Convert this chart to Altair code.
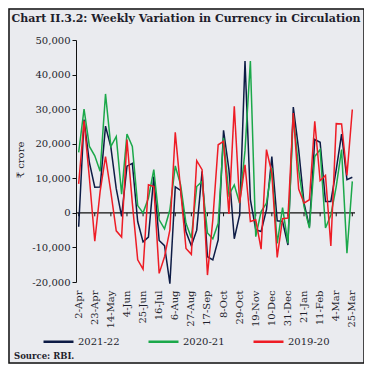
import altair as alt
import pandas as pd

dates = ["2-Apr", "9-Apr", "16-Apr", "23-Apr", "30-Apr", "7-May", "14-May", "21-May", "28-May",
         "4-Jun", "11-Jun", "18-Jun", "25-Jun", "2-Jul", "9-Jul", "16-Jul", "23-Jul", "30-Jul",
         "6-Aug", "13-Aug", "20-Aug", "27-Aug", "3-Sep", "10-Sep", "17-Sep", "24-Sep", "1-Oct",
         "8-Oct", "15-Oct", "22-Oct", "29-Oct", "5-Nov", "12-Nov", "19-Nov", "26-Nov", "3-Dec",
         "10-Dec", "17-Dec", "24-Dec", "31-Dec", "7-Jan", "14-Jan", "21-Jan", "28-Jan", "4-Feb",
         "11-Feb", "18-Feb", "25-Feb", "4-Mar", "11-Mar", "18-Mar", "25-Mar"]
tick_labels = ["2-Apr", "23-Apr", "14-May", "4-Jun", "25-Jun", "16-Jul", "6-Aug", "27-Aug", "17-Sep",
               "8-Oct", "29-Oct", "19-Nov", "10-Dec", "31-Dec", "21-Jan", "11-Feb", "4-Mar", "25-Mar"]
y_ticks = [-20000, -10000, 0, 10000, 20000, 30000, 40000, 50000]
series = ["2021-22", "2020-21", "2019-20"]
colors = ["#0D1B45", "#1BA84A", "#EE1C25"]

v2122 = [-4000, 27000, 14500, 7400, 7500, 25100, 19000, 7000, -1000, 13500, 14300, -2500,
         -8400, -7000, 10500, -8000, -9500, -20500, 7500, 6500, -5500, -9500, -5000, 12000,
         -12700, -13600, -7800, 23900, 12500, -7500, -600, 43900, 3800, -4900, -5400, 900,
         16300, -2300, -2500, -9300, 30600, 18300, 2800, -4000, 21200, 20400, 3300, 3300,
         12500, 22800, 9600, 10300]
v2021 = [17500, 30000, 19200, 16500, 12000, 34400, 19200, 22100, 5400, 22800, 19200, 2100,
         0, 4300, 12500, -2000, -4600, 900, 13600, 8100, -3000, -7300, 7600, 9100,
         -5800, -7500, -3000, 21700, 5200, 8100, 2800, 18000, 43900, -6900, 400, 2800,
         13000, -8800, 1500, -8800, 28400, 12500, 1800, -4400, 16300, 18300, -4400, -600,
         7600, 18300, -11700, 9100]
v1920 = [8400, 26600, 10000, -8200, 6200, 16300, 6000, -5200, -7000, 21200, 2800, -13600,
         -16300, 8100, 7600, -17500, -12700, -4900, 23300, 6700, -10300, -12000, 15100, 12500,
         -18000, -2000, 19700, 20700, -300, 30800, 2800, 13900, -2500, -2000, -10500, 18300,
         11500, -12900, -1700, -1500, 28900, 6900, 2800, 3800, 26500, 9300, 10800, -9600,
         25800, 25700, 10800, 29900]

rows = []
for name, vals in zip(series, [v2122, v2021, v1920]):
    for d, v in zip(dates, vals):
        rows.append({"date": d, "value": v, "series": name})
df = pd.DataFrame(rows)

FONT = "DejaVu Serif"
TXT = "#1E1E2C"
W, H = 279, 242

xscale = alt.Scale(domain=dates, padding=0)
yscale = alt.Scale(domain=[-20000, 50000], nice=False)

lines = alt.Chart(df).mark_line(strokeWidth=1.5).encode(
    x=alt.X("date:O", scale=xscale,
            axis=alt.Axis(values=tick_labels, labelAngle=270, labelAlign="right",
                          labelBaseline="middle", domain=False, ticks=False,
                          labelPadding=8, labelFont=FONT, labelFontSize=10,
                          labelColor=TXT, labelOverlap=False, title=None)),
    y=alt.Y("value:Q", scale=yscale,
            axis=alt.Axis(values=y_ticks,
                          labelExpr="(datum.value < 0 ? '-' : '') + format(abs(datum.value), ',')",
                          labelFont=FONT, labelFontSize=10, labelColor=TXT,
                          domainColor="#111111", tickColor="#111111", tickSize=4,
                          labelPadding=2, labelOverlap=False, labelFlush=False,
                          grid=False, title=None)),
    color=alt.Color("series:N", scale=alt.Scale(domain=series, range=colors),
                    legend=alt.Legend(orient="none", legendX=-34, legendY=285,
                                      direction="horizontal", title=None,
                                      symbolType="stroke", symbolSize=900,
                                      symbolStrokeWidth=2.5, labelFont=FONT,
                                      labelFontSize=10, labelColor=TXT,
                                      labelOffset=3, columnPadding=23)),
)

ticks_df = pd.DataFrame({"date": tick_labels})
zero = alt.Chart(pd.DataFrame({"a": [0]})).mark_rule(color="#111111", strokeWidth=1.2).encode(
    y=alt.datum(0),
)
zticks = alt.Chart(ticks_df).mark_rule(color="#111111", strokeWidth=1).encode(
    x=alt.X("date:O", scale=xscale),
    y=alt.datum(0),
    y2=alt.datum(-1000),
)

one = pd.DataFrame({"a": [0]})
title = alt.Chart(one).mark_text(
    text="Chart II.3.2: Weekly Variation in Currency in Circulation",
    font=FONT, fontWeight="bold", fontSize=11, color=TXT, align="center", baseline="alphabetic"
).encode(x=alt.value(110), y=alt.value(-18))
ytitle = alt.Chart(one).mark_text(
    text="₹ crore", font=FONT, fontSize=10, color=TXT, angle=270,
    align="center", baseline="middle"
).encode(x=alt.value(-55), y=alt.value(120))
source = alt.Chart(one).mark_text(
    text="Source: RBI.", font=FONT, fontWeight="bold", fontSize=8.5, color=TXT,
    align="left", baseline="alphabetic"
).encode(x=alt.value(-62), y=alt.value(319))
border = alt.Chart(one).mark_rect(fill="transparent", stroke="#111111", strokeWidth=1.5).encode(
    x=alt.value(-67), x2=alt.value(288), y=alt.value(-31), y2=alt.value(323)
)

chart = alt.layer(border, zero, zticks, lines, title, ytitle, source).properties(
    width=W, height=H,
    autosize=alt.AutoSizeParams(type="none"),
    padding={"left": 68, "top": 32, "right": 9, "bottom": 82},
    background="#EAEBEF",
).configure_view(strokeWidth=0).configure_axis(
    labelOverlap=False, labelFlush=False
).configure_axisY(
    labelOverlap=False, tickCount=8
)

chart.save("out.html", embed_options={"renderer": "svg", "actions": False})
